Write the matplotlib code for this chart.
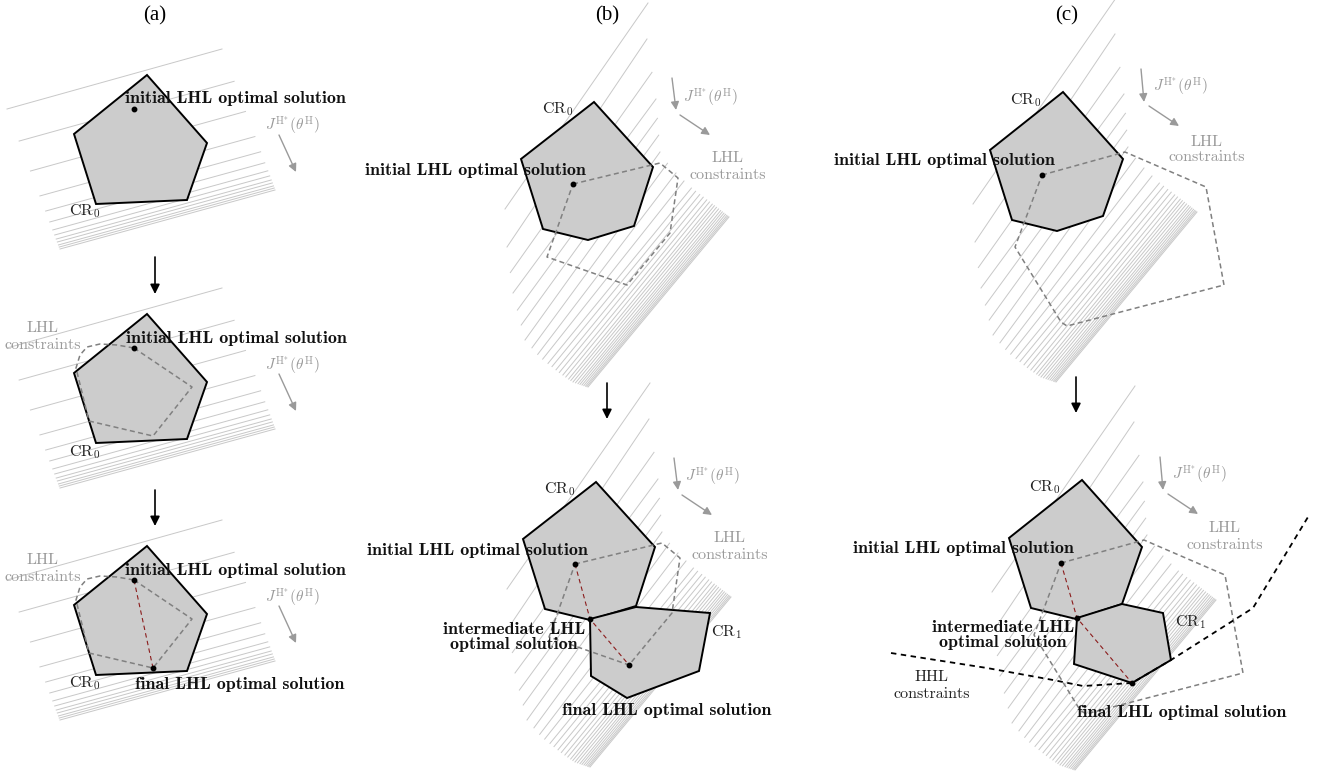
import numpy as np
import matplotlib
matplotlib.use("Agg")
import matplotlib.pyplot as plt
from matplotlib.patches import Polygon

plt.rcParams['mathtext.fontset'] = 'cm'

# ---------------- sketch data (pixel coordinates, y downwards) ----------------
titles = ["(a)", "(b)", "(c)"]
title_x = [155, 607, 1067]
title_y = 16

# panel (a): the same region drawn three times, one under the other
a_row_dy = [0, 239, 471]
a_cr0 = [(147, 75), (207, 143), (187, 200), (96, 204), (74, 134)]
a_init = (134, 109)
a_final = (153, 197)
a_lhl = [(134, 109), (192, 148), (153, 197), (89, 182), (76, 129),
         (80, 116), (87, 108), (100, 105), (117, 106)]
a_hatch_lt = [0, 1]
a_hatch_left = [(7, 109), (60, 249)]
a_hatch_rt = [0, 1]
a_hatch_right = [(222, 49), (275, 190)]
a_hatch_t = [0, .229, .443, .621, .729, .807, .864, .9, .929, .95, .971, .986, 1.0]
a_jarrow = [(279, 135), (296, 172)]

# panels (b) and (c): level sets of J (same family, shifted)
bc_hatch_lt = [0, .14, .32, .54, .67, .82, .91, 1]
bc_hatch_left = [(505, 209), (507, 247), (513, 293), (525, 340), (540, 357),
                 (560, 373), (573, 382), (588, 387)]
bc_hatch_rt = [0, .14, .32, .54, .62, .72, 1]
bc_hatch_right = [(648, 3), (647, 39), (656, 99), (660, 152), (670, 167),
                  (690, 187), (729, 217)]
bc_hatch_t = [0, .14, .24, .32, .40, .47, .54, .60, .65, .69, .73, .76, .79,
              .815, .84, .86, .88, .895, .91, .925, .94, .952, .964, .975,
              .985, .993, 1.0]

# panel (b)
b_cr0 = [(594, 102), (653, 167), (634, 226), (588, 240), (543, 229), (521, 159)]
b_init = (573, 184)
b_lhl = [(573, 184), (660, 163), (678, 178), (670, 233), (627, 285), (547, 257)]
b_bottom_shift = (2, 380)
b_cr1 = [(636, 607), (710, 613), (699, 671), (627, 698), (591, 676), (590, 619)]
b_mid = (590, 619)
b_final = (629, 665)
b_jarrows = [[(672, 78), (676, 110)], [(680, 115), (710, 135)]]

# panel (c)
c_cr0 = [(1063, 92), (1123, 159), (1103, 216), (1057, 231), (1012, 220), (990, 150)]
c_init = (1042, 175)
c_lhl = [(1042, 175), (1125, 152), (1206, 187), (1224, 285), (1067, 326),
         (1061, 322), (1015, 247)]
c_hatch_shift = (468, -5)
c_bottom_shift = (19, 388)
c_cr1 = [(1122, 604), (1163, 613), (1171, 660), (1132, 683), (1074, 664), (1077, 618)]
c_mid = (1077, 618)
c_final = (1132, 683)
c_hhl = [(891, 653), (987, 668), (1053, 680), (1083, 686), (1132, 683),
         (1171, 660), (1253, 608), (1308, 517)]
c_jarrows = [[(1141, 69), (1144, 102)], [(1149, 106), (1179, 126)]]

# black arrows between the steps
step_arrows = [[(155, 257), (155, 294)], [(155, 490), (155, 526)],
               [(607, 383), (607, 419)], [(1076, 377), (1076, 413)]]

# labels: (text, x, y, kind, ha)
labels = [
    # (a)
    ("initial LHL optimal solution", 125, 99, "bold", "left"),
    ("initial LHL optimal solution", 126, 338, "bold", "left"),
    ("initial LHL optimal solution", 125, 570, "bold", "left"),
    ("final LHL optimal solution", 135, 685, "bold", "left"),
    ("LHL", 43, 328, "gray", "center"), ("constraints", 43, 345, "gray", "center"),
    ("LHL", 43, 560, "gray", "center"), ("constraints", 43, 577, "gray", "center"),
    (r"$\mathrm{CR}_0$", 69, 211, "plain", "left"),
    (r"$\mathrm{CR}_0$", 69, 452, "plain", "left"),
    (r"$\mathrm{CR}_0$", 69, 683, "plain", "left"),
    # (b)
    ("initial LHL optimal solution", 365, 171, "bold", "left"),
    ("initial LHL optimal solution", 367, 551, "bold", "left"),
    ("intermediate LHL", 514, 629, "bold", "center"),
    ("optimal solution", 514, 645, "bold", "center"),
    ("final LHL optimal solution", 562, 710, "bold", "left"),
    (r"$\mathrm{CR}_0$", 542, 109, "plain", "left"),
    (r"$\mathrm{CR}_0$", 544, 489, "plain", "left"),
    (r"$\mathrm{CR}_1$", 711, 632, "plain", "left"),
    ("LHL", 728, 158, "gray", "center"), ("constraints", 728, 175, "gray", "center"),
    ("LHL", 730, 538, "gray", "center"), ("constraints", 730, 555, "gray", "center"),
    # (c)
    ("initial LHL optimal solution", 834, 161, "bold", "left"),
    ("initial LHL optimal solution", 853, 548, "bold", "left"),
    ("intermediate LHL", 1003, 627, "bold", "center"),
    ("optimal solution", 1003, 643, "bold", "center"),
    ("final LHL optimal solution", 1077, 713, "bold", "left"),
    (r"$\mathrm{CR}_0$", 1010, 100, "plain", "left"),
    (r"$\mathrm{CR}_0$", 1029, 487, "plain", "left"),
    (r"$\mathrm{CR}_1$", 1175, 622, "plain", "left"),
    ("LHL", 1207, 142, "gray", "center"), ("constraints", 1207, 157, "gray", "center"),
    ("LHL", 1225, 528, "gray", "center"), ("constraints", 1225, 545, "gray", "center"),
    ("HHL", 932, 677, "plain", "center"), ("constraints", 932, 694, "plain", "center"),
]
j_label = r"$J^{\mathrm{H}^{*}}(\theta^{\mathrm{H}})$"
j_pos = [(265, 126), (265, 366), (265, 598), (683, 98), (685, 477), (1153, 87), (1172, 475)]

# ---------------- drawing ----------------
HATCH = '#c8c8c8'
FILL = '#cccccc'
DASH = '#808080'
LABEL_GRAY = '#9a9a9a'
RED = '#8b1c1c'

fig = plt.figure(figsize=(13.2, 7.76), dpi=100)
ax = fig.add_axes([0, 0, 1, 1])
ax.set_xlim(0, 1320)
ax.set_ylim(776, 0)
ax.axis('off')


def sh(pts, d):
    return [(x + d[0], y + d[1]) for x, y in pts]


def hatch(lt, left, rt, right, ts, d=(0, 0)):
    left = np.array(left, float)
    right = np.array(right, float)
    for t in ts:
        x0 = np.interp(t, lt, left[:, 0]) + d[0]
        y0 = np.interp(t, lt, left[:, 1]) + d[1]
        x1 = np.interp(t, rt, right[:, 0]) + d[0]
        y1 = np.interp(t, rt, right[:, 1]) + d[1]
        ax.plot([x0, x1], [y0, y1], color=HATCH, lw=0.7, zorder=1)


def region(pts):
    ax.add_patch(Polygon(pts, closed=True, fc=FILL, ec='black', lw=1.4, zorder=2))


def dashed(pts, closed=True, color=DASH, lw=1.1, ls=(0, (3.3, 2.2)), z=3):
    xs = [p[0] for p in pts]
    ys = [p[1] for p in pts]
    if closed:
        xs.append(xs[0])
        ys.append(ys[0])
    ax.plot(xs, ys, color=color, lw=lw, ls=ls, zorder=z)


def dot(p):
    ax.plot(p[0], p[1], 'o', color='black', ms=3.2, zorder=6)


def arrow(p0, p1, color, lw, scale):
    ax.annotate('', xy=p1, xytext=p0,
                arrowprops=dict(arrowstyle='-|>', color=color, lw=lw,
                                mutation_scale=scale, shrinkA=0, shrinkB=0),
                zorder=5)


# panel (a)
for k, dy in enumerate(a_row_dy):
    d = (0, dy)
    hatch(a_hatch_lt, a_hatch_left, a_hatch_rt, a_hatch_right, a_hatch_t, d)
    region(sh(a_cr0, d))
    if k > 0:
        dashed(sh(a_lhl, d))
    if k == 2:
        dashed(sh([a_init, a_final], d), closed=False, color=RED, lw=0.8, ls=(0, (4, 3)), z=4)
        dot(sh([a_final], d)[0])
    dot(sh([a_init], d)[0])
    p0, p1 = sh(a_jarrow, d)
    arrow(p0, p1, LABEL_GRAY, 1.0, 12)

# panel (b)
hatch(bc_hatch_lt, bc_hatch_left, bc_hatch_rt, bc_hatch_right, bc_hatch_t)
hatch(bc_hatch_lt, bc_hatch_left, bc_hatch_rt, bc_hatch_right, bc_hatch_t, b_bottom_shift)
region(b_cr0)
dashed(b_lhl)
dot(b_init)
region(sh(b_cr0, b_bottom_shift))
region(b_cr1)
dashed(sh(b_lhl, b_bottom_shift))
b_init2 = sh([b_init], b_bottom_shift)[0]
dashed([b_init2, b_mid, b_final], closed=False, color=RED, lw=0.8, ls=(0, (4, 3)), z=4)
for p in (b_init2, b_mid, b_final):
    dot(p)
for d in [(0, 0), b_bottom_shift]:
    for a0, a1 in b_jarrows:
        p0, p1 = sh([a0, a1], d)
        arrow(p0, p1, LABEL_GRAY, 1.0, 12)

# panel (c)
c_bot_hatch = (c_hatch_shift[0] + c_bottom_shift[0], c_hatch_shift[1] + c_bottom_shift[1])
hatch(bc_hatch_lt, bc_hatch_left, bc_hatch_rt, bc_hatch_right, bc_hatch_t, c_hatch_shift)
hatch(bc_hatch_lt, bc_hatch_left, bc_hatch_rt, bc_hatch_right, bc_hatch_t, c_bot_hatch)
region(c_cr0)
dashed(c_lhl)
dot(c_init)
region(sh(c_cr0, c_bottom_shift))
region(c_cr1)
dashed(sh(c_lhl, c_bottom_shift))
dashed(c_hhl, closed=False, color='black', lw=1.3, ls=(0, (3, 2.5)), z=3)
c_init2 = sh([c_init], c_bottom_shift)[0]
dashed([c_init2, c_mid, c_final], closed=False, color=RED, lw=0.8, ls=(0, (4, 3)), z=4)
for p in (c_init2, c_mid, c_final):
    dot(p)
for d in [(0, 0), c_bottom_shift]:
    for a0, a1 in c_jarrows:
        p0, p1 = sh([a0, a1], d)
        arrow(p0, p1, LABEL_GRAY, 1.0, 12)

for p0, p1 in step_arrows:
    arrow(p0, p1, 'black', 1.2, 14)

# text
for s, x in zip(titles, title_x):
    ax.text(x, title_y, s, ha='center', va='center', fontsize=15,
            family='Liberation Serif', zorder=7)
for s, x, y, kind, ha in labels:
    if kind == "bold":
        ax.text(x, y, s, ha=ha, va='center', fontsize=13, family='cmb10',
                color='#111111', zorder=7)
    elif kind == "gray":
        ax.text(x, y, s, ha=ha, va='center', fontsize=11.5, family='cmr10',
                color=LABEL_GRAY, zorder=7)
    else:
        ax.text(x, y, s, ha=ha, va='center', fontsize=11.5, family='cmr10',
                color='#222222', zorder=7)
for x, y in j_pos:
    ax.text(x, y, j_label, ha='left', va='center', fontsize=11,
            color=LABEL_GRAY, zorder=7)

fig.savefig('out.png', dpi=100)
